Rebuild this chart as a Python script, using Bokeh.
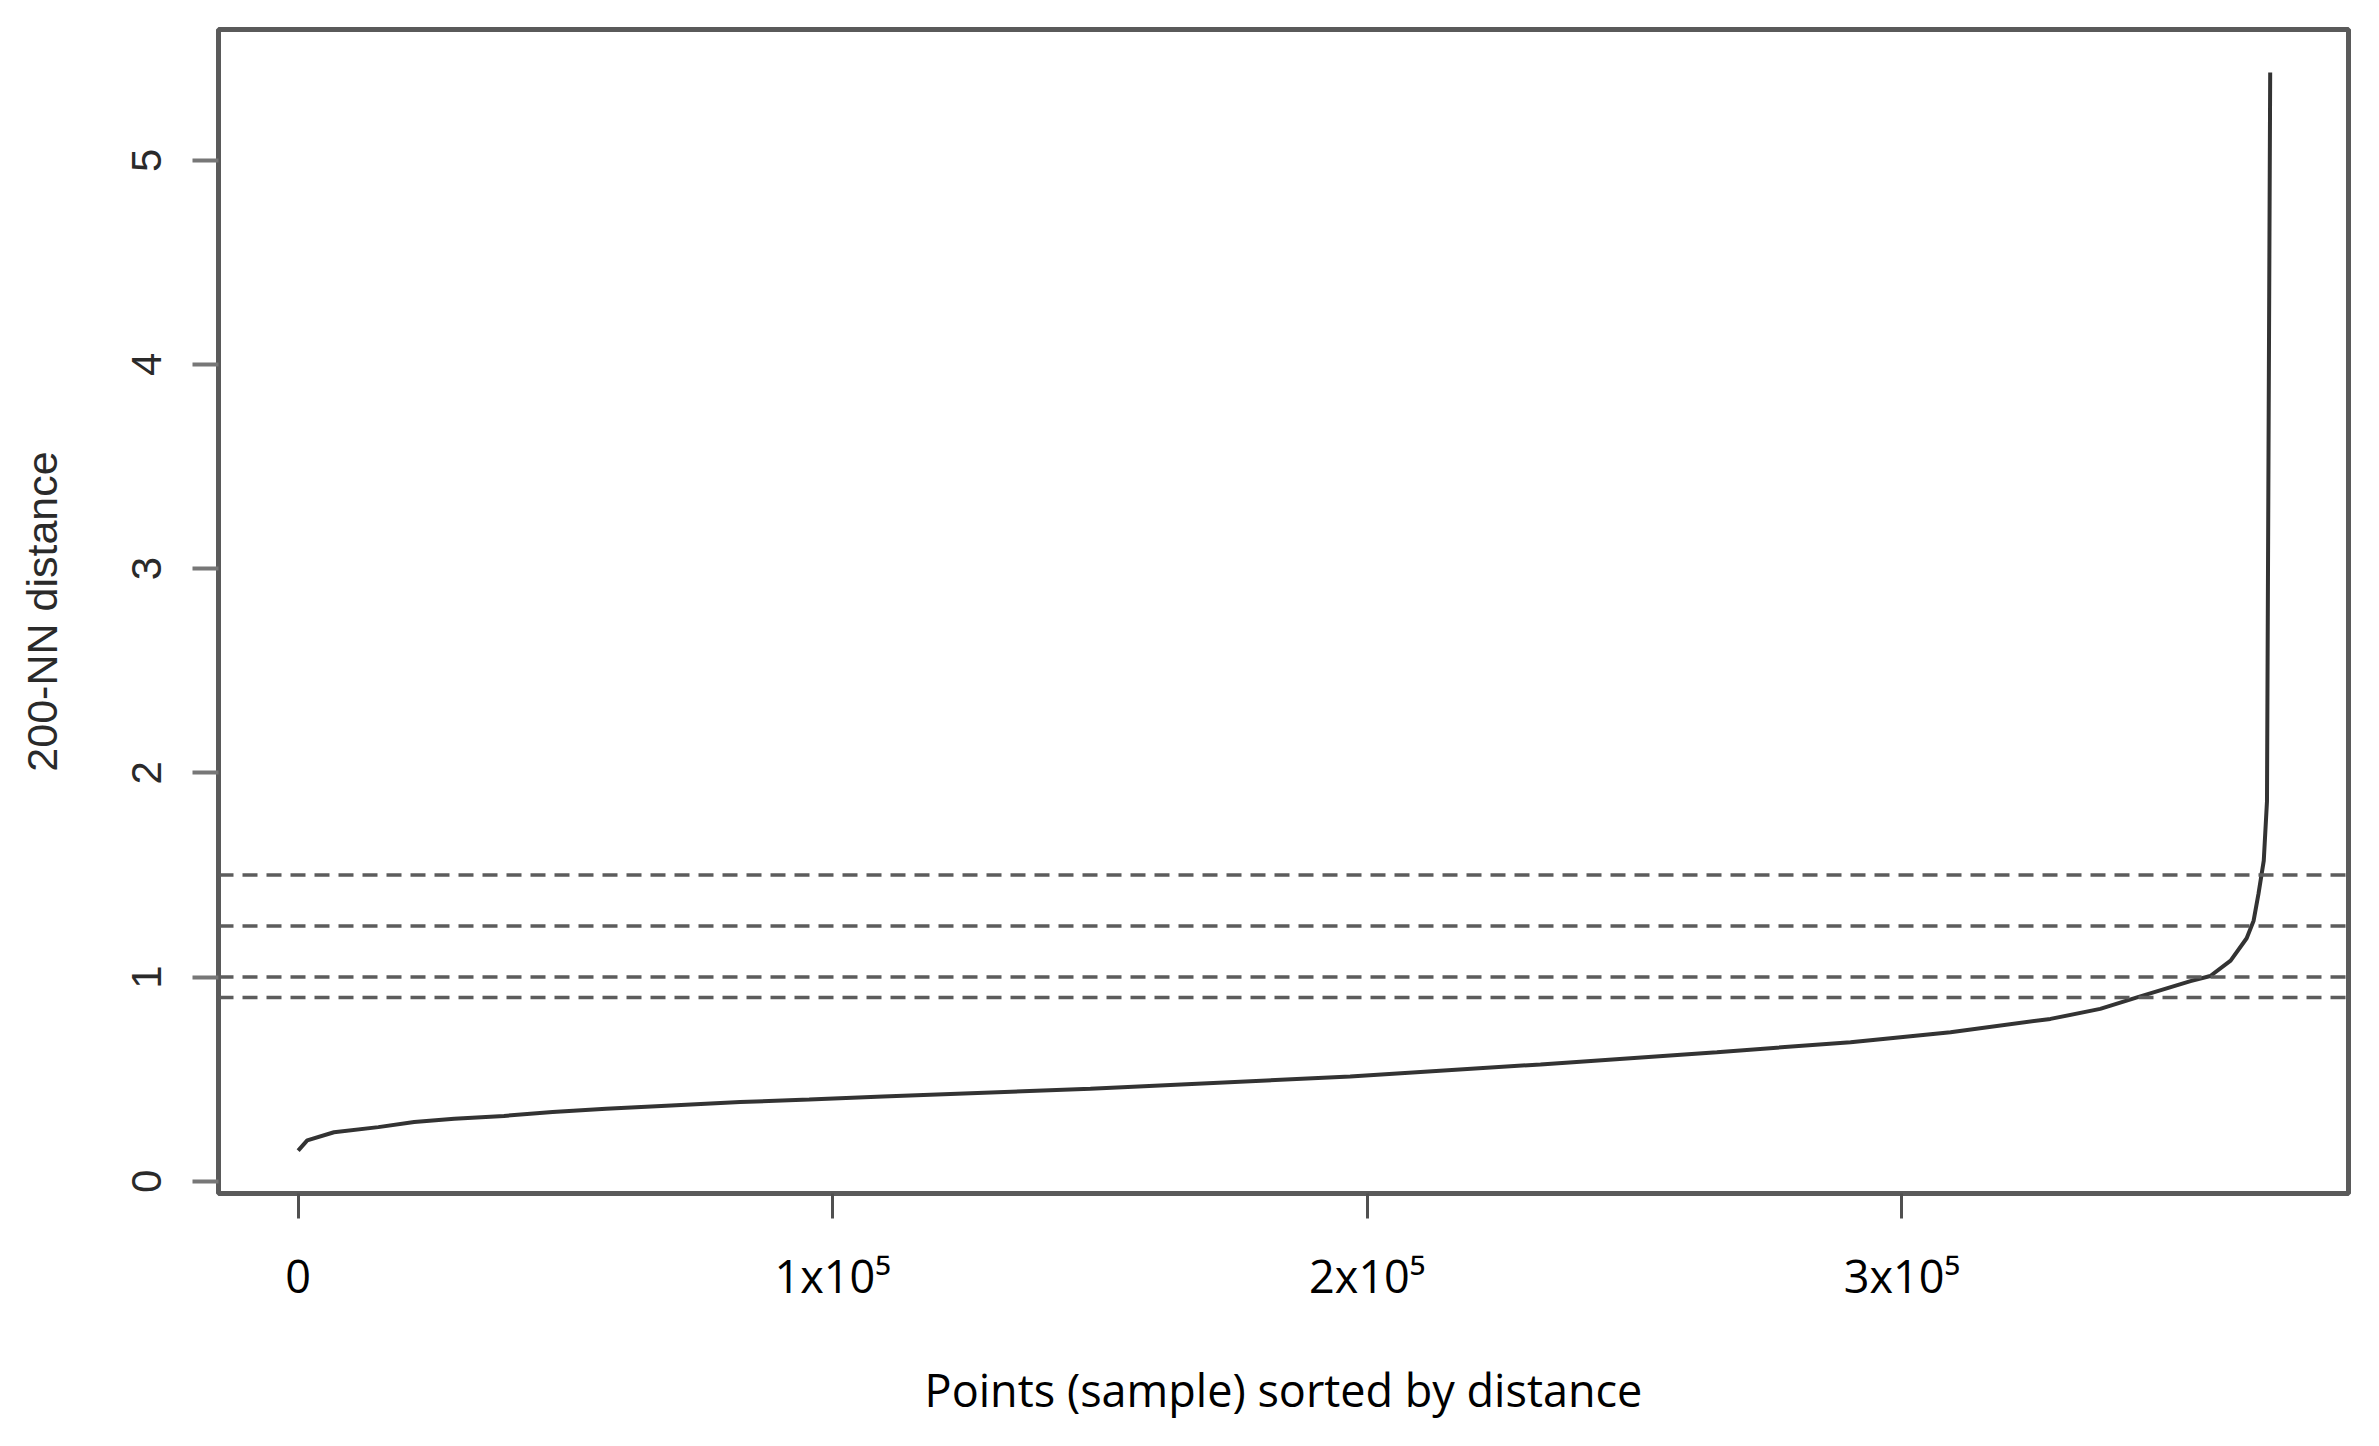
from bokeh.plotting import figure
from bokeh.models import Range1d, FixedTicker, Span, ColumnDataSource
from bokeh.embed import file_html
from bokeh.resources import INLINE

# ---- data ----
point_index = [0, 1700, 6700, 15000, 21700, 29200, 38500, 47600, 57600, 69800,
               82700, 95600, 109400, 148200, 196800, 232400, 265400, 290400,
               309100, 327800, 337100, 344000, 354000, 357700, 361500, 364500,
               365800, 366700, 367700, 368300, 368900]
nn_distance = [0.15, 0.20, 0.24, 0.265, 0.29, 0.306, 0.32, 0.339, 0.355, 0.371,
               0.388, 0.40, 0.415, 0.453, 0.513, 0.572, 0.632, 0.681,
               0.73, 0.795, 0.844, 0.90, 0.98, 1.005, 1.08, 1.19,
               1.276, 1.406, 1.57, 1.86, 5.43]
threshold_levels = [1.5, 1.25, 1.0, 0.9]

x_ticks = [0, 100000, 200000, 300000]
x_tick_labels = ["0", "1x10\u2075", "2x10\u2075", "3x10\u2075"]
y_ticks = [0, 1, 2, 3, 4, 5]

x_label = "Points (sample) sorted by distance"
y_label = "200-NN distance"

src = ColumnDataSource(dict(x=point_index, y=nn_distance))

p = figure(width=2363, height=1430, output_backend="svg", toolbar_location=None,
           x_range=Range1d(-14900, 383550), y_range=Range1d(-0.06, 5.64))

p.min_border_left = 218
p.min_border_right = 15
p.min_border_top = 29
p.min_border_bottom = 237

p.grid.visible = False
p.background_fill_color = "white"
p.border_fill_color = "white"
p.outline_line_color = "#5a5a5a"
p.outline_line_width = 5

# curve
p.line("x", "y", source=src, line_color="#333333", line_width=4)

# horizontal dashed thresholds
for lv in threshold_levels:
    p.add_layout(Span(location=lv, dimension="width", line_color="#5c5c5c",
                      line_width=3.5, line_dash="15 9"))

# x axis
xa = p.xaxis[0]
xa.ticker = FixedTicker(ticks=x_ticks)
xa.major_label_overrides = dict(zip(x_ticks, x_tick_labels))
xa.axis_line_color = None
xa.minor_tick_line_color = None
xa.major_tick_in = 0
xa.major_tick_out = 25
xa.major_tick_line_color = "#505050"
xa.major_tick_line_width = 3
xa.major_label_text_font = "Open Sans"
xa.major_label_text_font_size = "45px"
xa.major_label_text_color = "#000000"
xa.major_label_standoff = 26
xa.axis_label = x_label
xa.axis_label_text_font = "Open Sans"
xa.axis_label_text_font_size = "45px"
xa.axis_label_text_font_style = "normal"
xa.axis_label_text_color = "#000000"
xa.axis_label_standoff = 50

# y axis
ya = p.yaxis[0]
ya.ticker = FixedTicker(ticks=y_ticks)
ya.axis_line_color = None
ya.minor_tick_line_color = None
ya.major_tick_in = 0
ya.major_tick_out = 26
ya.major_tick_line_color = "#777777"
ya.major_tick_line_width = 4
ya.major_label_orientation = "vertical"
ya.major_label_text_font = "Liberation Sans"
ya.major_label_text_font_size = "42px"
ya.major_label_text_color = "#2a2a2a"
ya.major_label_standoff = 31
ya.axis_label = y_label
ya.axis_label_text_font = "Liberation Sans"
ya.axis_label_text_font_size = "43px"
ya.axis_label_text_font_style = "normal"
ya.axis_label_text_color = "#2a2a2a"
ya.axis_label_standoff = 64

open("out.html", "w").write(file_html(p, INLINE))
